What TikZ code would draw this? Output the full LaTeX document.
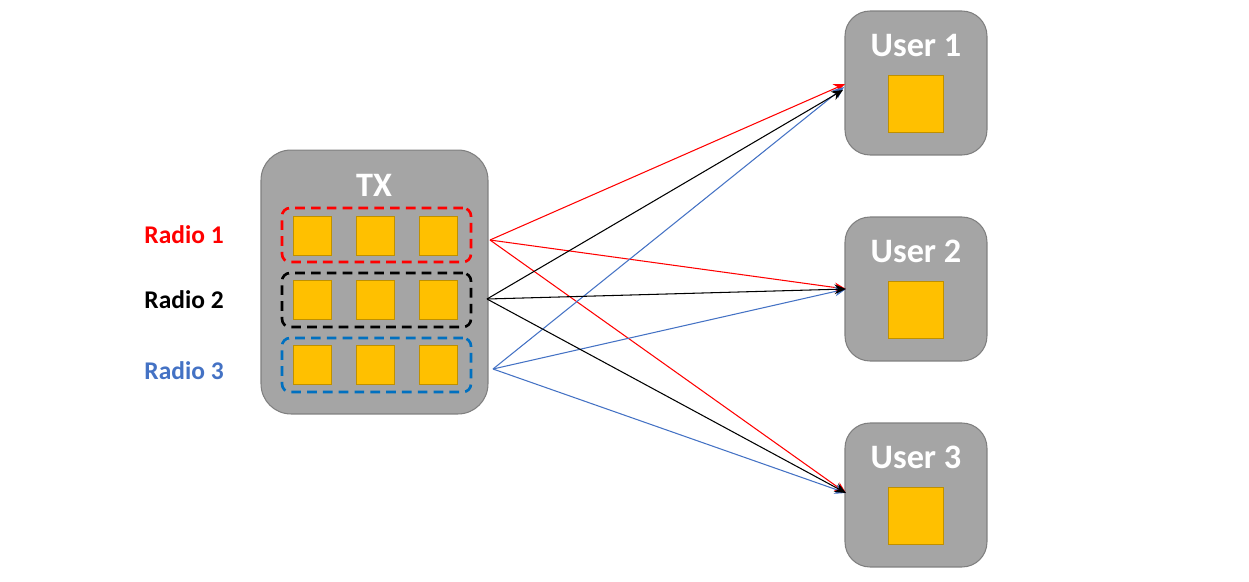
\documentclass[tikz,border=0pt]{standalone}
\usepackage{fontspec}
\setmainfont{Carlito}
\usetikzlibrary{arrows.meta}
\definecolor{boxgray}{HTML}{A5A5A5}
\definecolor{boxedge}{HTML}{7F7F7F}
\definecolor{ant}{HTML}{FFC000}
\definecolor{antedge}{HTML}{BF9000}
\definecolor{lblue}{HTML}{4472C4}
\definecolor{dblue}{HTML}{0070C0}
\definecolor{pred}{HTML}{FF0000}
\tikzset{
  graybox/.style={draw=boxedge, fill=boxgray, line width=0.6pt, rounded corners=0.5cm},
  antsq/.style={draw=antedge, fill=ant, line width=0.5pt, minimum width=0.76cm, minimum height=0.78cm, inner sep=0pt},
  usq/.style={draw=antedge, fill=ant, line width=0.5pt, minimum width=1.1cm, minimum height=1.14cm, inner sep=0pt},
  grp/.style={draw, dashed, dash pattern=on 5.5pt off 3.5pt, line width=1.5pt, rounded corners=0.16cm, minimum width=3.78cm, minimum height=1.08cm, inner sep=0pt},
  title/.style={text=white, font=\bfseries\fontsize{19.5}{21}\selectfont, inner sep=0pt},
  radio/.style={font=\bfseries\fontsize{14.5}{16}\selectfont, inner sep=0pt},
  link/.style={line width=0.6pt, -{Stealth[length=6.5pt,width=5.5pt]}},
}
\begin{document}
\begin{tikzpicture}[x=0.02cm,y=-0.02cm]
\useasboundingbox (0,0) rectangle (1249,582);
% TX
\node[graybox, rounded corners=0.6cm, minimum width=4.54cm, minimum height=5.28cm, inner sep=0pt] (tx) at (374.5,282) {};
\node[title] (txl) at (374,185) {TX};
\foreach \r/\y in {1/235.5,2/300,3/364.5}{
  \foreach \c/\x in {1/312,2/375,3/438.5}{
    \node[antsq] (a\r\c) at (\x,\y) {};
  }
}
\node[grp, draw=pred] (g1) at (376.5,235) {};
\node[grp, draw=black] (g2) at (376.5,300) {};
\node[grp, draw=dblue] (g3) at (376.5,365) {};
% Radio labels
\node[radio, text=pred, anchor=east] (l1) at (224,235) {Radio 1};
\node[radio, text=black, anchor=east] (l2) at (224,300) {Radio 2};
\node[radio, text=lblue, anchor=east] (l3) at (224,371) {Radio 3};
% Users
\foreach \i/\y in {1/83,2/289,3/495}{
  \node[graybox, minimum width=2.84cm, minimum height=2.88cm, inner sep=0pt] (u\i) at (916,\y) {};
  \node[title] (ut\i) at (916,\y-38) {User \i};
  \node[usq] (us\i) at (916,\y+21) {};
}
% link coordinates
\coordinate (sr) at (490,240);
\coordinate (sk) at (487,299);
\coordinate (sb) at (493,369);
\coordinate (e1r) at (845,84);
\coordinate (e1b) at (844,87);
\coordinate (e1k) at (843,90);
\coordinate (e2) at (846,289);
\coordinate (e3) at (846,493);
% links
\draw[link, pred] (sr) -- (e1r);
\draw[link, pred] (sr) -- (e2);
\draw[link, pred] (sr) -- (e3);
\draw[link, lblue] (sb) -- (e1b);
\draw[link, lblue] (sb) -- (e2);
\draw[link, lblue] (sb) -- (e3);
\draw[link, black] (sk) -- (e1k);
\draw[link, black] (sk) -- (e2);
\draw[link, black] (sk) -- (e3);
\end{tikzpicture}
\end{document}
